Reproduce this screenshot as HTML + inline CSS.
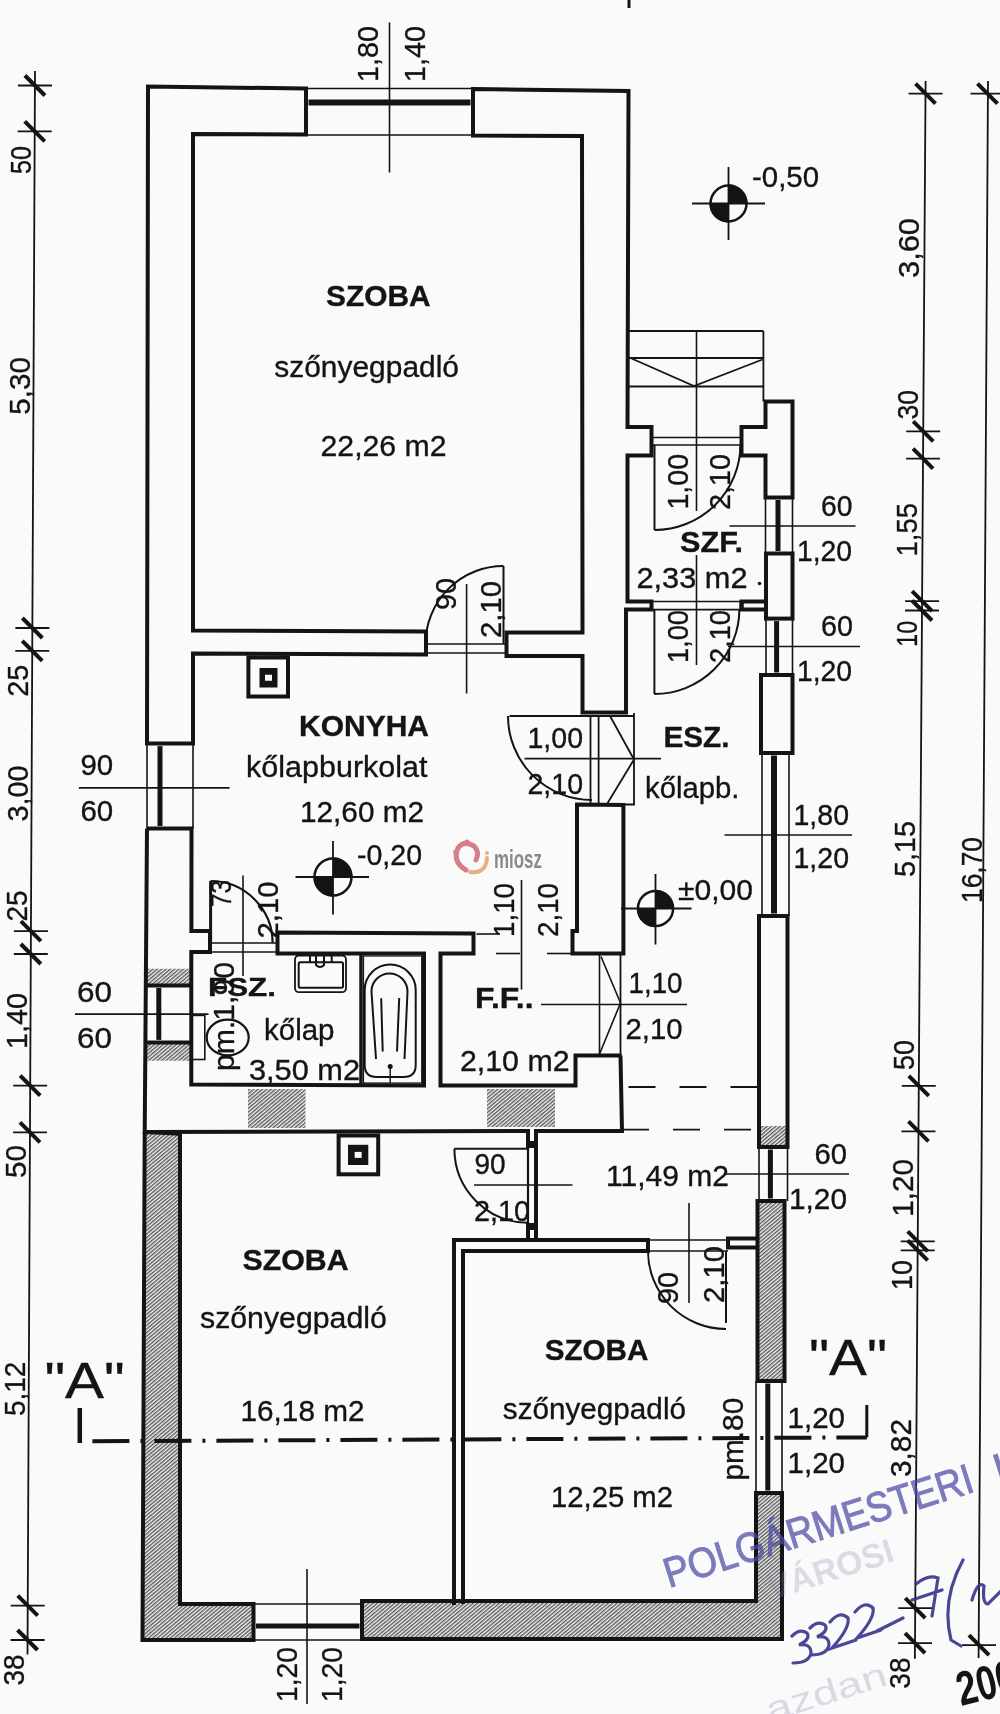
<!DOCTYPE html><html><head><meta charset="utf-8"><style>html,body{margin:0;padding:0;background:#fafafa;width:1000px;height:1714px;overflow:hidden}</style></head><body><svg width="1000" height="1714" viewBox="0 0 1000 1714" style="display:block;filter:blur(0.45px)">
<defs><pattern id="hat" patternUnits="userSpaceOnUse" width="2.8" height="10" patternTransform="rotate(50)"><rect width="2.8" height="10" fill="#f2f2f2"/><line x1="0.7" y1="0" x2="0.7" y2="10" stroke="#555" stroke-width="1.35"/></pattern></defs>
<rect width="1000" height="1714" fill="#fafafa"/>
<g font-family="Liberation Sans, sans-serif">
<path d="M146,1132 L180,1132 L180,1604 L253.5,1604 L253.5,1640 L142.5,1640 Z" fill="url(#hat)" stroke="none"/>
<path d="M362,1601 L756,1601 L756,1493 L782,1493 L782,1639 L362,1639 Z" fill="url(#hat)" stroke="none"/>
<path d="M757.5,1201 L784.5,1201 L784.5,1381 L757.5,1381 Z" fill="url(#hat)" stroke="none"/>
<path d="M759,1126 L787.5,1126 L787.5,1147 L759,1147 Z" fill="url(#hat)" stroke="none"/>
<path d="M145,968.8 L191.3,968.8 L191.3,985.4 L145,985.4 Z" fill="url(#hat)" stroke="none"/>
<path d="M145,1042.4 L191.3,1042.4 L191.3,1060.7 L145,1060.7 Z" fill="url(#hat)" stroke="none"/>
<path d="M248,1089 L305.5,1089 L305.5,1128 L248,1128 Z" fill="url(#hat)" stroke="none"/>
<path d="M487,1089 L555,1089 L555,1127 L487,1127 Z" fill="url(#hat)" stroke="none"/>
<path d="M306,88.5 L148,86.5 L147,743.6 L193,743.6 L193,653.5 L426,654.5 L426,631.5 L193,630.5 L193,134 L306,134.5 Z" fill="none" stroke="#141414" stroke-width="4" stroke-linejoin="miter" />
<path d="M473,89 L628.5,91 L627.5,427 L651.5,427 L651.5,455.5 L627.5,455.5 L627.5,601.5 L651.5,601.5 L651.5,609.6 L626,609.6 L626,712.5 L582.5,712.5 L582.5,656 L506.5,656 L506.5,632.5 L582.5,632.5 L582,136 L473,135.5 Z" fill="none" stroke="#141414" stroke-width="4" stroke-linejoin="miter" />
<line x1="306" y1="88.5" x2="473" y2="88.5" stroke="#141414" stroke-width="1.6" />
<line x1="306" y1="135" x2="473" y2="135" stroke="#141414" stroke-width="1.6" />
<line x1="308.5" y1="102.5" x2="470.5" y2="102.5" stroke="#141414" stroke-width="6" />
<path d="M765.5,401.5 L792.5,401.5 L792.5,497.5 L765.5,497.5 L765.5,455.5 L741.5,455.5 L741.5,427 L765.5,427 Z" fill="none" stroke="#141414" stroke-width="4" stroke-linejoin="miter" />
<line x1="765.5" y1="497.5" x2="765.5" y2="553.5" stroke="#141414" stroke-width="1.6" />
<line x1="792.5" y1="497.5" x2="792.5" y2="553.5" stroke="#141414" stroke-width="1.6" />
<line x1="778" y1="500.0" x2="778" y2="551.0" stroke="#141414" stroke-width="5" />
<rect x="766" y="553.5" width="26.5" height="65.10000000000002" fill="none" stroke="#141414" stroke-width="4"/>
<path d="M767,601.5 L741.5,601.5 L741.5,609.6 L767,609.6" fill="none" stroke="#141414" stroke-width="4" stroke-linejoin="miter" />
<line x1="741.5" y1="601.5" x2="741.5" y2="609.6" stroke="#141414" stroke-width="4" />
<line x1="766" y1="618.6" x2="766" y2="675" stroke="#141414" stroke-width="1.6" />
<line x1="792.5" y1="618.6" x2="792.5" y2="675" stroke="#141414" stroke-width="1.6" />
<line x1="776.6" y1="621.1" x2="776.6" y2="672.5" stroke="#141414" stroke-width="5" />
<rect x="761" y="675" width="31.5" height="78" fill="none" stroke="#141414" stroke-width="4"/>
<line x1="762" y1="753" x2="762" y2="916" stroke="#141414" stroke-width="1.6" />
<line x1="789" y1="753" x2="789" y2="916" stroke="#141414" stroke-width="1.6" />
<line x1="774" y1="755.5" x2="774" y2="913.5" stroke="#141414" stroke-width="6" />
<rect x="759" y="916" width="28.5" height="231" fill="none" stroke="#141414" stroke-width="4"/>
<line x1="759" y1="1147" x2="759" y2="1201" stroke="#141414" stroke-width="1.6" />
<line x1="787.5" y1="1147" x2="787.5" y2="1201" stroke="#141414" stroke-width="1.6" />
<line x1="770.4" y1="1149.5" x2="770.4" y2="1198.5" stroke="#141414" stroke-width="5" />
<rect x="757.5" y="1201" width="27.0" height="180" fill="none" stroke="#141414" stroke-width="4"/>
<line x1="756" y1="1381" x2="756" y2="1493" stroke="#141414" stroke-width="1.6" />
<line x1="782" y1="1381" x2="782" y2="1493" stroke="#141414" stroke-width="1.6" />
<line x1="767.8" y1="1383.5" x2="767.8" y2="1490.5" stroke="#141414" stroke-width="5" />
<path d="M756,1493 L782,1493 L782,1639 L362,1639 L362,1601 L756,1601 Z" fill="none" stroke="#141414" stroke-width="4" stroke-linejoin="miter" />
<line x1="253.5" y1="1604" x2="362" y2="1604" stroke="#141414" stroke-width="1.6" />
<line x1="253.5" y1="1640" x2="362" y2="1640" stroke="#141414" stroke-width="1.6" />
<line x1="256.0" y1="1626" x2="359.5" y2="1626" stroke="#141414" stroke-width="5" />
<path d="M146,1132 L180,1133.7 L180,1604 L253.5,1604 L253.5,1640 L142.5,1640 L144.7,1132" fill="none" stroke="#141414" stroke-width="4" stroke-linejoin="miter" />
<line x1="147" y1="743.6" x2="147" y2="828.5" stroke="#141414" stroke-width="1.6" />
<line x1="193" y1="743.6" x2="193" y2="828.5" stroke="#141414" stroke-width="1.6" />
<line x1="160" y1="746.1" x2="160" y2="826.0" stroke="#141414" stroke-width="5" />
<path d="M147,828.5 L144.7,1134" fill="none" stroke="#141414" stroke-width="4" stroke-linejoin="miter" />
<path d="M147,828.5 L191.5,828.5 L191.4,931 L210,931 L210,952 L191.3,952 L191.3,1084.6 L424,1085.5 L424,953.5 L277.5,953.5 L277.5,932.5 L473.5,933.4 L473.5,953.5 L440.5,953.5 L440.5,1085.5 L575.5,1085.5 L575.5,1055.5 L621.6,1055.5" fill="none" stroke="#141414" stroke-width="4" stroke-linejoin="miter" />
<line x1="145" y1="985.4" x2="191.3" y2="985.4" stroke="#141414" stroke-width="4" />
<line x1="145" y1="1042.4" x2="191.3" y2="1042.4" stroke="#141414" stroke-width="4" />
<line x1="145" y1="985.4" x2="145" y2="1042.4" stroke="#141414" stroke-width="1.6" />
<line x1="191.3" y1="985.4" x2="191.3" y2="1042.4" stroke="#141414" stroke-width="1.6" />
<line x1="158.8" y1="987.9" x2="158.8" y2="1039.9" stroke="#141414" stroke-width="5" />
<line x1="210" y1="943" x2="277.5" y2="943" stroke="#141414" stroke-width="1.6" />
<line x1="210" y1="952" x2="277.5" y2="952" stroke="#141414" stroke-width="1.6" />
<path d="M577,804.5 L623.4,805 L623.4,953.5 L572.5,953.5 L572.5,931 L577,931 Z" fill="none" stroke="#141414" stroke-width="4" stroke-linejoin="miter" />
<path d="M620.5,1055.5 L622,1131 L536,1131 L536,1240" fill="none" stroke="#141414" stroke-width="4" stroke-linejoin="miter" />
<path d="M146,1132 L528,1131 L528,1147" fill="none" stroke="#141414" stroke-width="4" stroke-linejoin="miter" />
<line x1="528" y1="1147" x2="528" y2="1224" stroke="#141414" stroke-width="2.2" />
<path d="M528,1224 L528,1240" fill="none" stroke="#141414" stroke-width="4" stroke-linejoin="miter" />
<rect x="526" y="1141" width="12" height="7" fill="#141414"/>
<rect x="526" y="1223" width="12" height="7" fill="#141414"/>
<line x1="620.5" y1="953.5" x2="620.5" y2="1055.5" stroke="#141414" stroke-width="1.8" />
<line x1="599.5" y1="953.5" x2="599.5" y2="1055.5" stroke="#141414" stroke-width="1.6" />
<path d="M601,956.5 L620.5,1003 L599.5,1054" fill="none" stroke="#141414" stroke-width="1.6" stroke-linejoin="miter" />
<line x1="628.5" y1="1087" x2="757" y2="1087" stroke="#141414" stroke-width="1.8" stroke-dasharray="27 24"/>
<line x1="622" y1="1129.6" x2="757" y2="1129.6" stroke="#141414" stroke-width="1.8" stroke-dasharray="27 24"/>
<path d="M454,1605 L454,1240 L648,1240 L648,1251 L463,1251 L463,1604" fill="none" stroke="#141414" stroke-width="4" stroke-linejoin="miter" />
<path d="M757.5,1238.4 L728,1238.4 L728,1247.6 L757.5,1247.6" fill="none" stroke="#141414" stroke-width="4" stroke-linejoin="miter" />
<line x1="648" y1="1240" x2="728" y2="1240" stroke="#141414" stroke-width="1.6" />
<line x1="648" y1="1251" x2="728" y2="1251" stroke="#141414" stroke-width="1.6" />
<line x1="426" y1="644" x2="506.5" y2="644" stroke="#141414" stroke-width="1.6" />
<line x1="426" y1="653" x2="506.5" y2="653" stroke="#141414" stroke-width="1.6" />
<line x1="503.5" y1="644" x2="503.5" y2="566" stroke="#141414" stroke-width="2" />
<path d="M425.5,644 A78,78 0 0 1 503.5,566" fill="none" stroke="#141414" stroke-width="2" stroke-linejoin="miter" />
<line x1="466.6" y1="584" x2="466.6" y2="693.5" stroke="#141414" stroke-width="1.6" />
<text transform="translate(455.7,610) rotate(-90)" x="0" y="0" font-size="30" font-weight="normal" textLength="32" lengthAdjust="spacingAndGlyphs" fill="#141414" stroke="#141414" stroke-width="0.35">90</text>
<text transform="translate(500.7,638) rotate(-90)" x="0" y="0" font-size="30" font-weight="normal" textLength="57" lengthAdjust="spacingAndGlyphs" fill="#141414" stroke="#141414" stroke-width="0.35">2,10</text>
<line x1="651.5" y1="437.5" x2="741.5" y2="437.5" stroke="#141414" stroke-width="1.6" />
<line x1="651.5" y1="445" x2="741.5" y2="445" stroke="#141414" stroke-width="1.6" />
<line x1="654.5" y1="445" x2="654.5" y2="530" stroke="#141414" stroke-width="2" />
<path d="M654.5,530 A86,86 0 0 0 740.5,445" fill="none" stroke="#141414" stroke-width="2" stroke-linejoin="miter" />
<text transform="translate(687.7,509.5) rotate(-90)" x="0" y="0" font-size="30" font-weight="normal" textLength="55.5" lengthAdjust="spacingAndGlyphs" fill="#141414" stroke="#141414" stroke-width="0.35">1,00</text>
<text transform="translate(729.7,510) rotate(-90)" x="0" y="0" font-size="30" font-weight="normal" textLength="56" lengthAdjust="spacingAndGlyphs" fill="#141414" stroke="#141414" stroke-width="0.35">2,10</text>
<line x1="651.5" y1="601.5" x2="741.5" y2="601.5" stroke="#141414" stroke-width="1.6" />
<line x1="651.5" y1="609.6" x2="741.5" y2="609.6" stroke="#141414" stroke-width="1.6" />
<line x1="654.4" y1="609.6" x2="654.4" y2="694" stroke="#141414" stroke-width="2" />
<path d="M654.4,694 A85,85 0 0 0 739.4,609.6" fill="none" stroke="#141414" stroke-width="2" stroke-linejoin="miter" />
<text transform="translate(687.7,663) rotate(-90)" x="0" y="0" font-size="30" font-weight="normal" textLength="53" lengthAdjust="spacingAndGlyphs" fill="#141414" stroke="#141414" stroke-width="0.35">1,00</text>
<text transform="translate(729.7,663) rotate(-90)" x="0" y="0" font-size="30" font-weight="normal" textLength="53" lengthAdjust="spacingAndGlyphs" fill="#141414" stroke="#141414" stroke-width="0.35">2,10</text>
<line x1="696.5" y1="331" x2="696.5" y2="511" stroke="#141414" stroke-width="1.6" />
<line x1="696.5" y1="555" x2="696.5" y2="665" stroke="#141414" stroke-width="1.6" />
<line x1="627.5" y1="331" x2="763.4" y2="331" stroke="#141414" stroke-width="1.8" />
<line x1="627.5" y1="358" x2="763.4" y2="358" stroke="#141414" stroke-width="1.8" />
<line x1="627.5" y1="386.5" x2="763.4" y2="386.5" stroke="#141414" stroke-width="1.8" />
<line x1="763.4" y1="331" x2="763.4" y2="401.5" stroke="#141414" stroke-width="1.8" />
<path d="M630.5,358 L694,386 L762.5,359.5" fill="none" stroke="#141414" stroke-width="1.8" stroke-linejoin="miter" />
<line x1="509.5" y1="716" x2="634" y2="716" stroke="#141414" stroke-width="1.8" />
<path d="M508,716 A84,84 0 0 0 592,800" fill="none" stroke="#141414" stroke-width="2" stroke-linejoin="miter" />
<line x1="590.5" y1="716" x2="590.5" y2="803" stroke="#141414" stroke-width="1.8" />
<line x1="598.6" y1="716" x2="598.6" y2="803" stroke="#141414" stroke-width="1.8" />
<path d="M634,713 L634,804.5 L598,804.5" fill="none" stroke="#141414" stroke-width="1.8" stroke-linejoin="miter" />
<path d="M610,716 L634,759.5 L607,804" fill="none" stroke="#141414" stroke-width="1.8" stroke-linejoin="miter" />
<line x1="524.5" y1="758.6" x2="661" y2="758.6" stroke="#141414" stroke-width="1.6" />
<text x="527.5" y="747.7" font-size="30" font-weight="normal" textLength="55.5" lengthAdjust="spacingAndGlyphs" fill="#141414" stroke="#141414" stroke-width="0.35">1,00</text>
<text x="527.5" y="794.2" font-size="30" font-weight="normal" textLength="55.5" lengthAdjust="spacingAndGlyphs" fill="#141414" stroke="#141414" stroke-width="0.35">2,10</text>
<path d="M210.6,881 A62,62 0 0 1 272.6,943" fill="none" stroke="#141414" stroke-width="2.2" stroke-linejoin="miter" />
<line x1="210.6" y1="881" x2="210.6" y2="943" stroke="#141414" stroke-width="3" />
<line x1="243" y1="875.5" x2="243" y2="976" stroke="#141414" stroke-width="1.6" />
<text transform="translate(230.7,907) rotate(-90)" x="0" y="0" font-size="30" font-weight="normal" textLength="27" lengthAdjust="spacingAndGlyphs" fill="#141414" stroke="#141414" stroke-width="0.35">73</text>
<text transform="translate(277.7,938.5) rotate(-90)" x="0" y="0" font-size="30" font-weight="normal" textLength="57.0" lengthAdjust="spacingAndGlyphs" fill="#141414" stroke="#141414" stroke-width="0.35">2,10</text>
<line x1="521.5" y1="880" x2="521.5" y2="989.5" stroke="#141414" stroke-width="1.6" />
<line x1="476.5" y1="934" x2="500" y2="934" stroke="#141414" stroke-width="1.6" />
<line x1="496" y1="953.5" x2="520" y2="953.5" stroke="#141414" stroke-width="1.6" />
<line x1="547" y1="953.5" x2="572" y2="953.5" stroke="#141414" stroke-width="1.6" />
<text transform="translate(514.2,937) rotate(-90)" x="0" y="0" font-size="30" font-weight="normal" textLength="54" lengthAdjust="spacingAndGlyphs" fill="#141414" stroke="#141414" stroke-width="0.35">1,10</text>
<text transform="translate(557.7,937) rotate(-90)" x="0" y="0" font-size="30" font-weight="normal" textLength="54" lengthAdjust="spacingAndGlyphs" fill="#141414" stroke="#141414" stroke-width="0.35">2,10</text>
<text x="628.5" y="992.7" font-size="30" font-weight="normal" textLength="54.0" lengthAdjust="spacingAndGlyphs" fill="#141414" stroke="#141414" stroke-width="0.35">1,10</text>
<text x="625.5" y="1039.2" font-size="30" font-weight="normal" textLength="57.0" lengthAdjust="spacingAndGlyphs" fill="#141414" stroke="#141414" stroke-width="0.35">2,10</text>
<line x1="541" y1="1004.5" x2="687" y2="1004.5" stroke="#141414" stroke-width="1.6" />
<line x1="454.4" y1="1148.8" x2="528" y2="1148.8" stroke="#141414" stroke-width="2" />
<path d="M454.4,1148.8 A74,74 0 0 0 528,1222.8" fill="none" stroke="#141414" stroke-width="2" stroke-linejoin="miter" />
<text x="474.4" y="1174.3" font-size="30" font-weight="normal" textLength="31.200000000000045" lengthAdjust="spacingAndGlyphs" fill="#141414" stroke="#141414" stroke-width="0.35">90</text>
<line x1="474" y1="1185" x2="572.5" y2="1185" stroke="#141414" stroke-width="1.6" />
<text x="474" y="1221.3" font-size="30" font-weight="normal" textLength="56" lengthAdjust="spacingAndGlyphs" fill="#141414" stroke="#141414" stroke-width="0.35">2,10</text>
<line x1="726" y1="1251" x2="726" y2="1323" stroke="#141414" stroke-width="2" />
<path d="M648,1251 A78,78 0 0 0 726,1329" fill="none" stroke="#141414" stroke-width="2" stroke-linejoin="miter" />
<line x1="689" y1="1203" x2="689" y2="1303" stroke="#141414" stroke-width="1.6" />
<text transform="translate(677.7,1304) rotate(-90)" x="0" y="0" font-size="30" font-weight="normal" textLength="32" lengthAdjust="spacingAndGlyphs" fill="#141414" stroke="#141414" stroke-width="0.35">90</text>
<text transform="translate(723.7,1303) rotate(-90)" x="0" y="0" font-size="30" font-weight="normal" textLength="57" lengthAdjust="spacingAndGlyphs" fill="#141414" stroke="#141414" stroke-width="0.35">2,10</text>
<rect x="248.4" y="657.5" width="39.599999999999994" height="39.0" fill="none" stroke="#141414" stroke-width="4"/>
<rect x="259.5" y="668" width="18.0" height="19.5" fill="#141414"/>
<rect x="265.0" y="674.75" width="7" height="6" fill="#fafafa"/>
<rect x="338.6" y="1135.5" width="39.599999999999966" height="38.799999999999955" fill="none" stroke="#141414" stroke-width="4"/>
<rect x="348" y="1144.8" width="20.30000000000001" height="20.200000000000045" fill="#141414"/>
<rect x="354.65" y="1151.9" width="7" height="6" fill="#fafafa"/>
<rect x="295" y="955.5" width="51" height="36.7" rx="4" fill="none" stroke="#141414" stroke-width="1.8"/>
<rect x="298.7" y="962.2" width="44.3" height="25.5" rx="1.5" fill="none" stroke="#141414" stroke-width="2"/>
<path d="M316,956 L316,965 Q320,969 324,965 L324,956" fill="none" stroke="#141414" stroke-width="2"/>
<line x1="310" y1="955" x2="310" y2="962" stroke="#141414" stroke-width="2" />
<line x1="331.7" y1="955" x2="331.7" y2="962" stroke="#141414" stroke-width="2" />
<line x1="361" y1="953.5" x2="361" y2="1085" stroke="#141414" stroke-width="3.5" />
<rect x="363.5" y="956" width="58.2" height="127" fill="none" stroke="#141414" stroke-width="1.2"/>
<path d="M364.7,990 A25.5,25.5 0 0 1 415.7,990 L415.7,1065 Q415.7,1077 403.7,1077 L376.7,1077 Q364.7,1077 364.7,1065 Z" fill="none" stroke="#141414" stroke-width="2"/>
<path d="M376,1059 L371.5,991.5 A18,18 0 0 1 407.5,991.5 L404.5,1059" fill="none" stroke="#141414" stroke-width="2"/>
<line x1="381.2" y1="998.2" x2="382.7" y2="1051.5" stroke="#141414" stroke-width="2" />
<line x1="399.2" y1="998" x2="397" y2="1051.5" stroke="#141414" stroke-width="2" />
<circle cx="390.2" cy="1066.5" r="2.5" fill="#141414"/>
<line x1="390.2" y1="1066" x2="390.2" y2="1083" stroke="#141414" stroke-width="1.4" />
<rect x="191.9" y="1015.4" width="12.9" height="44.1" fill="none" stroke="#141414" stroke-width="1.6"/>
<ellipse cx="227.7" cy="1037.5" rx="21" ry="17.8" fill="none" stroke="#141414" stroke-width="2.2"/>
<line x1="692" y1="203.5" x2="765" y2="203.5" stroke="#141414" stroke-width="1.8" />
<line x1="728.5" y1="167" x2="728.5" y2="240" stroke="#141414" stroke-width="1.8" />
<path d="M728.5,203.5 L728.5,184.5 A19,19 0 0 1 747.5,203.5 Z" fill="#141414"/>
<path d="M728.5,203.5 L728.5,222.5 A19,19 0 0 1 709.5,203.5 Z" fill="#141414"/>
<circle cx="728.5" cy="203.5" r="18" fill="none" stroke="#141414" stroke-width="2.5"/>
<text x="752" y="186.7" font-size="30" font-weight="normal" textLength="67" lengthAdjust="spacingAndGlyphs" fill="#141414" stroke="#141414" stroke-width="0.35">-0,50</text>
<line x1="295.5" y1="877" x2="369" y2="877" stroke="#141414" stroke-width="1.8" />
<line x1="333" y1="841" x2="333" y2="914.5" stroke="#141414" stroke-width="1.8" />
<path d="M333,877 L333,857.5 A19.5,19.5 0 0 1 352.5,877 Z" fill="#141414"/>
<path d="M333,877 L333,896.5 A19.5,19.5 0 0 1 313.5,877 Z" fill="#141414"/>
<circle cx="333" cy="877" r="18.5" fill="none" stroke="#141414" stroke-width="2.5"/>
<text x="357" y="865.2" font-size="30" font-weight="normal" textLength="65" lengthAdjust="spacingAndGlyphs" fill="#141414" stroke="#141414" stroke-width="0.35">-0,20</text>
<line x1="621" y1="908.5" x2="691.5" y2="908.5" stroke="#141414" stroke-width="1.8" />
<line x1="655.5" y1="874" x2="655.5" y2="944.5" stroke="#141414" stroke-width="1.8" />
<path d="M655.5,908.5 L655.5,889.9 A18.6,18.6 0 0 1 674.1,908.5 Z" fill="#141414"/>
<path d="M655.5,908.5 L655.5,927.1 A18.6,18.6 0 0 1 636.9,908.5 Z" fill="#141414"/>
<circle cx="655.5" cy="908.5" r="17.6" fill="none" stroke="#141414" stroke-width="2.5"/>
<text x="678" y="899.7" font-size="30" font-weight="normal" textLength="75" lengthAdjust="spacingAndGlyphs" fill="#141414" stroke="#141414" stroke-width="0.35">±0,00</text>
<text x="326" y="305.7" font-size="30" font-weight="bold" textLength="104.5" lengthAdjust="spacingAndGlyphs" fill="#141414" stroke="#141414" stroke-width="0.35">SZOBA</text>
<text x="274.3" y="376.7" font-size="30" font-weight="normal" textLength="184.7" lengthAdjust="spacingAndGlyphs" fill="#141414" stroke="#141414" stroke-width="0.35">szőnyegpadló</text>
<text x="320.5" y="456.2" font-size="30" font-weight="normal" textLength="126.10000000000002" lengthAdjust="spacingAndGlyphs" fill="#141414" stroke="#141414" stroke-width="0.35">22,26 m2</text>
<text x="299" y="735.7" font-size="30" font-weight="bold" textLength="130" lengthAdjust="spacingAndGlyphs" fill="#141414" stroke="#141414" stroke-width="0.35">KONYHA</text>
<text x="246" y="777.0" font-size="30" font-weight="normal" textLength="181.5" lengthAdjust="spacingAndGlyphs" fill="#141414" stroke="#141414" stroke-width="0.35">kőlapburkolat</text>
<text x="300" y="821.7" font-size="30" font-weight="normal" textLength="124" lengthAdjust="spacingAndGlyphs" fill="#141414" stroke="#141414" stroke-width="0.35">12,60 m2</text>
<text x="680" y="551.7" font-size="30" font-weight="bold" textLength="63" lengthAdjust="spacingAndGlyphs" fill="#141414" stroke="#141414" stroke-width="0.35">SZF.</text>
<text x="636.5" y="588.2" font-size="30" font-weight="normal" textLength="111.0" lengthAdjust="spacingAndGlyphs" fill="#141414" stroke="#141414" stroke-width="0.35">2,33 m2</text>
<circle cx="759.5" cy="583.5" r="1.8" fill="#141414"/>
<text x="663.5" y="747.2" font-size="30" font-weight="bold" textLength="66.0" lengthAdjust="spacingAndGlyphs" fill="#141414" stroke="#141414" stroke-width="0.35">ESZ.</text>
<text x="645" y="798.0" font-size="30" font-weight="normal" textLength="94.5" lengthAdjust="spacingAndGlyphs" fill="#141414" stroke="#141414" stroke-width="0.35">kőlapb.</text>
<text x="208" y="995.6" font-size="26" font-weight="bold" textLength="68" lengthAdjust="spacingAndGlyphs" fill="#141414" stroke="#141414" stroke-width="0.35">FSZ.</text>
<text x="264" y="1040.0" font-size="30" font-weight="normal" textLength="70.5" lengthAdjust="spacingAndGlyphs" fill="#141414" stroke="#141414" stroke-width="0.35">kőlap</text>
<text x="249" y="1079.7" font-size="30" font-weight="normal" textLength="111" lengthAdjust="spacingAndGlyphs" fill="#141414" stroke="#141414" stroke-width="0.35">3,50 m2</text>
<text x="475" y="1007.7" font-size="30" font-weight="bold" textLength="58.5" lengthAdjust="spacingAndGlyphs" fill="#141414" stroke="#141414" stroke-width="0.35">F.F..</text>
<text x="460" y="1070.7" font-size="30" font-weight="normal" textLength="109.5" lengthAdjust="spacingAndGlyphs" fill="#141414" stroke="#141414" stroke-width="0.35">2,10 m2</text>
<text x="606" y="1186.2" font-size="30" font-weight="normal" textLength="123" lengthAdjust="spacingAndGlyphs" fill="#141414" stroke="#141414" stroke-width="0.35">11,49 m2</text>
<text x="242.5" y="1270.2" font-size="30" font-weight="bold" textLength="106.10000000000002" lengthAdjust="spacingAndGlyphs" fill="#141414" stroke="#141414" stroke-width="0.35">SZOBA</text>
<text x="200" y="1328.0" font-size="30" font-weight="normal" textLength="186.8" lengthAdjust="spacingAndGlyphs" fill="#141414" stroke="#141414" stroke-width="0.35">szőnyegpadló</text>
<text x="240.5" y="1420.7" font-size="30" font-weight="normal" textLength="124.0" lengthAdjust="spacingAndGlyphs" fill="#141414" stroke="#141414" stroke-width="0.35">16,18 m2</text>
<text x="544.7" y="1360.2" font-size="30" font-weight="bold" textLength="103.69999999999993" lengthAdjust="spacingAndGlyphs" fill="#141414" stroke="#141414" stroke-width="0.35">SZOBA</text>
<text x="502.8" y="1419.0" font-size="30" font-weight="normal" textLength="183.2" lengthAdjust="spacingAndGlyphs" fill="#141414" stroke="#141414" stroke-width="0.35">szőnyegpadló</text>
<text x="551" y="1507.3" font-size="30" font-weight="normal" textLength="122" lengthAdjust="spacingAndGlyphs" fill="#141414" stroke="#141414" stroke-width="0.35">12,25 m2</text>
<text transform="translate(233.7,1071) rotate(-90)" x="0" y="0" font-size="30" font-weight="normal" textLength="109" lengthAdjust="spacingAndGlyphs" fill="#141414" stroke="#141414" stroke-width="0.35">pm.1,90</text>
<text transform="translate(742.5,1480.5) rotate(-90)" x="0" y="0" font-size="30" font-weight="normal" textLength="82.70000000000005" lengthAdjust="spacingAndGlyphs" fill="#141414" stroke="#141414" stroke-width="0.35">pm.80</text>
<text x="821" y="515.7" font-size="30" font-weight="normal" textLength="31.5" lengthAdjust="spacingAndGlyphs" fill="#141414" stroke="#141414" stroke-width="0.35">60</text>
<text x="797" y="560.7" font-size="30" font-weight="normal" textLength="55" lengthAdjust="spacingAndGlyphs" fill="#141414" stroke="#141414" stroke-width="0.35">1,20</text>
<line x1="729.5" y1="526" x2="855.5" y2="526" stroke="#141414" stroke-width="1.6" />
<text x="821" y="636.2" font-size="30" font-weight="normal" textLength="32" lengthAdjust="spacingAndGlyphs" fill="#141414" stroke="#141414" stroke-width="0.35">60</text>
<text x="797" y="681.2" font-size="30" font-weight="normal" textLength="55" lengthAdjust="spacingAndGlyphs" fill="#141414" stroke="#141414" stroke-width="0.35">1,20</text>
<line x1="728" y1="646.5" x2="860" y2="646.5" stroke="#141414" stroke-width="1.6" />
<text x="793.5" y="824.7" font-size="30" font-weight="normal" textLength="55.5" lengthAdjust="spacingAndGlyphs" fill="#141414" stroke="#141414" stroke-width="0.35">1,80</text>
<text x="793.5" y="868.2" font-size="30" font-weight="normal" textLength="55.5" lengthAdjust="spacingAndGlyphs" fill="#141414" stroke="#141414" stroke-width="0.35">1,20</text>
<line x1="724.5" y1="835" x2="852" y2="835" stroke="#141414" stroke-width="1.6" />
<text x="814.5" y="1163.7" font-size="30" font-weight="normal" textLength="32.5" lengthAdjust="spacingAndGlyphs" fill="#141414" stroke="#141414" stroke-width="0.35">60</text>
<text x="789" y="1208.7" font-size="30" font-weight="normal" textLength="58" lengthAdjust="spacingAndGlyphs" fill="#141414" stroke="#141414" stroke-width="0.35">1,20</text>
<line x1="726" y1="1174" x2="849" y2="1174" stroke="#141414" stroke-width="1.6" />
<text x="787.6" y="1428.3" font-size="30" font-weight="normal" textLength="57.39999999999998" lengthAdjust="spacingAndGlyphs" fill="#141414" stroke="#141414" stroke-width="0.35">1,20</text>
<text x="787.6" y="1473.3" font-size="30" font-weight="normal" textLength="57.39999999999998" lengthAdjust="spacingAndGlyphs" fill="#141414" stroke="#141414" stroke-width="0.35">1,20</text>
<text x="80.4" y="774.9" font-size="30" font-weight="normal" textLength="32.8" lengthAdjust="spacingAndGlyphs" fill="#141414" stroke="#141414" stroke-width="0.35">90</text>
<text x="80.4" y="821.3" font-size="30" font-weight="normal" textLength="32.8" lengthAdjust="spacingAndGlyphs" fill="#141414" stroke="#141414" stroke-width="0.35">60</text>
<line x1="78.8" y1="787.8" x2="229.5" y2="787.8" stroke="#141414" stroke-width="1.8" />
<text x="77" y="1001.7" font-size="30" font-weight="normal" textLength="35" lengthAdjust="spacingAndGlyphs" fill="#141414" stroke="#141414" stroke-width="0.35">60</text>
<text x="77" y="1047.5" font-size="30" font-weight="normal" textLength="35" lengthAdjust="spacingAndGlyphs" fill="#141414" stroke="#141414" stroke-width="0.35">60</text>
<line x1="75" y1="1014.2" x2="208.5" y2="1014.2" stroke="#141414" stroke-width="1.8" />
<line x1="389.5" y1="22.5" x2="389.5" y2="172.5" stroke="#141414" stroke-width="1.6" />
<text transform="translate(377.7,82) rotate(-90)" x="0" y="0" font-size="30" font-weight="normal" textLength="56" lengthAdjust="spacingAndGlyphs" fill="#141414" stroke="#141414" stroke-width="0.35">1,80</text>
<text transform="translate(424.7,82) rotate(-90)" x="0" y="0" font-size="30" font-weight="normal" textLength="56" lengthAdjust="spacingAndGlyphs" fill="#141414" stroke="#141414" stroke-width="0.35">1,40</text>
<line x1="307" y1="1569" x2="307" y2="1704" stroke="#141414" stroke-width="1.6" />
<text transform="translate(296.7,1702) rotate(-90)" x="0" y="0" font-size="30" font-weight="normal" textLength="55" lengthAdjust="spacingAndGlyphs" fill="#141414" stroke="#141414" stroke-width="0.35">1,20</text>
<text transform="translate(341.7,1702) rotate(-90)" x="0" y="0" font-size="30" font-weight="normal" textLength="55" lengthAdjust="spacingAndGlyphs" fill="#141414" stroke="#141414" stroke-width="0.35">1,20</text>
<line x1="35" y1="71" x2="27.5" y2="1654.4" stroke="#141414" stroke-width="1.8" />
<line x1="17.93131868131868" y1="85.5" x2="51.93131868131868" y2="85.5" stroke="#141414" stroke-width="1.8" />
<line x1="24.93131868131868" y1="75.5" x2="44.93131868131868" y2="95.5" stroke="#141414" stroke-width="4" />
<line x1="17.7139067828723" y1="131.4" x2="51.7139067828723" y2="131.4" stroke="#141414" stroke-width="1.8" />
<line x1="24.7139067828723" y1="121.4" x2="44.7139067828723" y2="141.4" stroke="#141414" stroke-width="4" />
<line x1="15.36169003410383" y1="628" x2="49.36169003410383" y2="628" stroke="#141414" stroke-width="1.8" />
<line x1="22.36169003410383" y1="618" x2="42.36169003410383" y2="638" stroke="#141414" stroke-width="4" />
<line x1="15.25369458128079" y1="650.8" x2="49.25369458128079" y2="650.8" stroke="#141414" stroke-width="1.8" />
<line x1="22.25369458128079" y1="640.8" x2="42.25369458128079" y2="660.8" stroke="#141414" stroke-width="4" />
<line x1="13.925539977264116" y1="931.2" x2="47.925539977264116" y2="931.2" stroke="#141414" stroke-width="1.8" />
<line x1="20.925539977264116" y1="921.2" x2="40.925539977264116" y2="941.2" stroke="#141414" stroke-width="4" />
<line x1="13.817544524441075" y1="954" x2="47.817544524441075" y2="954" stroke="#141414" stroke-width="1.8" />
<line x1="20.817544524441075" y1="944" x2="40.817544524441075" y2="964" stroke="#141414" stroke-width="4" />
<line x1="13.194202349374763" y1="1085.6" x2="47.19420234937476" y2="1085.6" stroke="#141414" stroke-width="1.8" />
<line x1="20.194202349374763" y1="1075.6" x2="40.19420234937476" y2="1095.6" stroke="#141414" stroke-width="4" />
<line x1="12.972527472527474" y1="1132.4" x2="46.972527472527474" y2="1132.4" stroke="#141414" stroke-width="1.8" />
<line x1="19.972527472527474" y1="1122.4" x2="39.972527472527474" y2="1142.4" stroke="#141414" stroke-width="4" />
<line x1="10.731148162182645" y1="1605.6" x2="44.73114816218265" y2="1605.6" stroke="#141414" stroke-width="1.8" />
<line x1="17.731148162182645" y1="1595.6" x2="37.73114816218265" y2="1615.6" stroke="#141414" stroke-width="4" />
<line x1="10.56820765441455" y1="1640" x2="44.56820765441455" y2="1640" stroke="#141414" stroke-width="1.8" />
<line x1="17.56820765441455" y1="1630" x2="37.56820765441455" y2="1650" stroke="#141414" stroke-width="4" />
<text transform="translate(30.8,174) rotate(-90)" x="0" y="0" font-size="30" font-weight="normal" textLength="28" lengthAdjust="spacingAndGlyphs" fill="#141414" stroke="#141414" stroke-width="0.35">50</text>
<text transform="translate(29.7,414.7) rotate(-90)" x="0" y="0" font-size="30" font-weight="normal" textLength="57.69999999999999" lengthAdjust="spacingAndGlyphs" fill="#141414" stroke="#141414" stroke-width="0.35">5,30</text>
<text transform="translate(28.4,696.8) rotate(-90)" x="0" y="0" font-size="30" font-weight="normal" textLength="32.0" lengthAdjust="spacingAndGlyphs" fill="#141414" stroke="#141414" stroke-width="0.35">25</text>
<text transform="translate(27.8,821.5) rotate(-90)" x="0" y="0" font-size="30" font-weight="normal" textLength="56.0" lengthAdjust="spacingAndGlyphs" fill="#141414" stroke="#141414" stroke-width="0.35">3,00</text>
<text transform="translate(27.3,921.6) rotate(-90)" x="0" y="0" font-size="30" font-weight="normal" textLength="31.200000000000045" lengthAdjust="spacingAndGlyphs" fill="#141414" stroke="#141414" stroke-width="0.35">25</text>
<text transform="translate(26.7,1049) rotate(-90)" x="0" y="0" font-size="30" font-weight="normal" textLength="56" lengthAdjust="spacingAndGlyphs" fill="#141414" stroke="#141414" stroke-width="0.35">1,40</text>
<text transform="translate(26.1,1178) rotate(-90)" x="0" y="0" font-size="30" font-weight="normal" textLength="33" lengthAdjust="spacingAndGlyphs" fill="#141414" stroke="#141414" stroke-width="0.35">50</text>
<text transform="translate(25.0,1416) rotate(-90)" x="0" y="0" font-size="30" font-weight="normal" textLength="54.40000000000009" lengthAdjust="spacingAndGlyphs" fill="#141414" stroke="#141414" stroke-width="0.35">5,12</text>
<text transform="translate(23.7,1685.6) rotate(-90)" x="0" y="0" font-size="30" font-weight="normal" textLength="31.199999999999818" lengthAdjust="spacingAndGlyphs" fill="#141414" stroke="#141414" stroke-width="0.35">38</text>
<line x1="925.6" y1="81" x2="914.9" y2="1658.8" stroke="#141414" stroke-width="1.8" />
<line x1="908.5138737482571" y1="93.7" x2="942.5138737482571" y2="93.7" stroke="#141414" stroke-width="1.8" />
<line x1="915.5138737482571" y1="83.7" x2="935.5138737482571" y2="103.7" stroke="#141414" stroke-width="4" />
<line x1="906.2237292432501" y1="431.4" x2="940.2237292432501" y2="431.4" stroke="#141414" stroke-width="1.8" />
<line x1="913.2237292432501" y1="421.4" x2="933.2237292432501" y2="441.4" stroke="#141414" stroke-width="4" />
<line x1="906.0385917099759" y1="458.7" x2="940.0385917099759" y2="458.7" stroke="#141414" stroke-width="1.8" />
<line x1="913.0385917099759" y1="448.7" x2="933.0385917099759" y2="468.7" stroke="#141414" stroke-width="4" />
<line x1="905.0722144758524" y1="601.2" x2="939.0722144758524" y2="601.2" stroke="#141414" stroke-width="1.8" />
<line x1="912.0722144758524" y1="591.2" x2="932.0722144758524" y2="611.2" stroke="#141414" stroke-width="4" />
<line x1="905.0091456458359" y1="610.5" x2="939.0091456458359" y2="610.5" stroke="#141414" stroke-width="1.8" />
<line x1="912.0091456458359" y1="600.5" x2="932.0091456458359" y2="620.5" stroke="#141414" stroke-width="4" />
<line x1="901.7858537203701" y1="1085.8" x2="935.7858537203701" y2="1085.8" stroke="#141414" stroke-width="1.8" />
<line x1="908.7858537203701" y1="1075.8" x2="928.7858537203701" y2="1095.8" stroke="#141414" stroke-width="4" />
<line x1="901.4766130054506" y1="1131.4" x2="935.4766130054506" y2="1131.4" stroke="#141414" stroke-width="1.8" />
<line x1="908.4766130054506" y1="1121.4" x2="928.4766130054506" y2="1141.4" stroke="#141414" stroke-width="4" />
<line x1="900.7306375966535" y1="1241.4" x2="934.7306375966535" y2="1241.4" stroke="#141414" stroke-width="1.8" />
<line x1="907.7306375966535" y1="1231.4" x2="927.7306375966535" y2="1251.4" stroke="#141414" stroke-width="4" />
<line x1="900.6696032450247" y1="1250.4" x2="934.6696032450247" y2="1250.4" stroke="#141414" stroke-width="1.8" />
<line x1="907.6696032450247" y1="1240.4" x2="927.6696032450247" y2="1260.4" stroke="#141414" stroke-width="4" />
<line x1="898.2438268475091" y1="1608.1" x2="932.2438268475091" y2="1608.1" stroke="#141414" stroke-width="1.8" />
<line x1="905.2438268475091" y1="1598.1" x2="925.2438268475091" y2="1618.1" stroke="#141414" stroke-width="4" />
<line x1="898.0057928761566" y1="1643.2" x2="932.0057928761566" y2="1643.2" stroke="#141414" stroke-width="1.8" />
<line x1="905.0057928761566" y1="1633.2" x2="925.0057928761566" y2="1653.2" stroke="#141414" stroke-width="4" />
<text transform="translate(919.2,278) rotate(-90)" x="0" y="0" font-size="30" font-weight="normal" textLength="60" lengthAdjust="spacingAndGlyphs" fill="#141414" stroke="#141414" stroke-width="0.35">3,60</text>
<text transform="translate(918.1,419.5) rotate(-90)" x="0" y="0" font-size="30" font-weight="normal" textLength="29.5" lengthAdjust="spacingAndGlyphs" fill="#141414" stroke="#141414" stroke-width="0.35">30</text>
<text transform="translate(917.3,556.4) rotate(-90)" x="0" y="0" font-size="30" font-weight="normal" textLength="53.39999999999998" lengthAdjust="spacingAndGlyphs" fill="#141414" stroke="#141414" stroke-width="0.35">1,55</text>
<text transform="translate(916.6,646.7) rotate(-90)" x="0" y="0" font-size="30" font-weight="normal" textLength="25.700000000000045" lengthAdjust="spacingAndGlyphs" fill="#141414" stroke="#141414" stroke-width="0.35">10</text>
<text transform="translate(915.1,877) rotate(-90)" x="0" y="0" font-size="30" font-weight="normal" textLength="56" lengthAdjust="spacingAndGlyphs" fill="#141414" stroke="#141414" stroke-width="0.35">5,15</text>
<text transform="translate(913.7,1070) rotate(-90)" x="0" y="0" font-size="30" font-weight="normal" textLength="30" lengthAdjust="spacingAndGlyphs" fill="#141414" stroke="#141414" stroke-width="0.35">50</text>
<text transform="translate(912.8,1216.7) rotate(-90)" x="0" y="0" font-size="30" font-weight="normal" textLength="57.700000000000045" lengthAdjust="spacingAndGlyphs" fill="#141414" stroke="#141414" stroke-width="0.35">1,20</text>
<text transform="translate(912.2,1290) rotate(-90)" x="0" y="0" font-size="30" font-weight="normal" textLength="30" lengthAdjust="spacingAndGlyphs" fill="#141414" stroke="#141414" stroke-width="0.35">10</text>
<text transform="translate(911.1,1477) rotate(-90)" x="0" y="0" font-size="30" font-weight="normal" textLength="58" lengthAdjust="spacingAndGlyphs" fill="#141414" stroke="#141414" stroke-width="0.35">3,82</text>
<text transform="translate(909.5,1688.7) rotate(-90)" x="0" y="0" font-size="30" font-weight="normal" textLength="31.200000000000045" lengthAdjust="spacingAndGlyphs" fill="#141414" stroke="#141414" stroke-width="0.35">38</text>
<line x1="988" y1="81" x2="978.6" y2="1658" stroke="#141414" stroke-width="1.8" />
<line x1="970.5" y1="93.7" x2="1004.5" y2="93.7" stroke="#141414" stroke-width="1.8" />
<line x1="977.5" y1="83.7" x2="997.5" y2="103.7" stroke="#141414" stroke-width="4" />
<line x1="962" y1="1645.2" x2="996" y2="1645.2" stroke="#141414" stroke-width="1.8" />
<line x1="969" y1="1635.2" x2="989" y2="1655.2" stroke="#141414" stroke-width="4" />
<text transform="translate(982.2,903) rotate(-90)" x="0" y="0" font-size="30" font-weight="normal" textLength="66" lengthAdjust="spacingAndGlyphs" fill="#141414" stroke="#141414" stroke-width="0.35">16,70</text>
<text x="44.4" y="1397.5" font-size="50" font-weight="normal" textLength="80.4" lengthAdjust="spacingAndGlyphs" fill="#141414" stroke="#141414" stroke-width="0.35">"A"</text>
<line x1="79.8" y1="1408" x2="79.8" y2="1443" stroke="#141414" stroke-width="4.5" />
<line x1="92.4" y1="1441.3" x2="866.8" y2="1437.4" stroke="#141414" stroke-width="4" stroke-dasharray="37 11 3 11"/>
<line x1="866.8" y1="1437.4" x2="866.8" y2="1405" stroke="#141414" stroke-width="3" />
<text x="809" y="1374.9" font-size="50" font-weight="normal" textLength="78" lengthAdjust="spacingAndGlyphs" fill="#141414" stroke="#141414" stroke-width="0.35">"A"</text>
<g transform="translate(669,1588) rotate(-17.5)" fill="#4a4aa6" stroke="#4a4aa6" stroke-width="1" opacity="0.72"><text x="0" y="0" font-size="42" textLength="322" lengthAdjust="spacingAndGlyphs">POLGÁRMESTERI</text><text x="346" y="0" font-size="42" textLength="30" lengthAdjust="spacingAndGlyphs">H</text></g>
<g transform="translate(772,1600) rotate(-17.6)" fill="#8080b0" opacity="0.25"><text x="0" y="0" font-size="34" font-weight="bold" textLength="130" lengthAdjust="spacingAndGlyphs">VÁROSI</text></g>
<g transform="translate(770,1722) rotate(-17.5)" fill="#9090b8" opacity="0.3"><text x="0" y="0" font-size="34" textLength="125" lengthAdjust="spacingAndGlyphs">azdan</text></g>
<path d="M792,1636 q8,-8 15,-3 q4,6 -8,12 q12,-2 12,8 q-2,10 -18,10 M810,1628 q8,-8 15,-3 q4,6 -8,12 q12,-2 12,8 q-2,10 -18,10 M830,1622 q10,-12 18,-4 q2,10 -16,30 l24,-8 M855,1612 q10,-12 18,-4 q2,10 -16,30 l24,-8 M877,1631 l26,-13 M916,1584 q12,-10 22,-6 l-6,38 M912,1600 l30,-10 M963,1560 q-22,40 -12,80 l10,6 M972,1600 q6,-20 12,-14 q-2,18 4,18 q6,-6 14,-14" fill="none" stroke="#34348c" stroke-width="3.2" stroke-linecap="round" opacity="0.9"/>
<text transform="translate(961,1706) rotate(-14)" font-size="48" font-weight="bold" fill="#141414" textLength="60" lengthAdjust="spacingAndGlyphs">200</text>
<line x1="629" y1="0" x2="629" y2="8" stroke="#141414" stroke-width="3" />
<g opacity="0.85"><path d="M466,870 Q452,862 458,848 Q464,840 474,846 Q480,852 476,860" fill="none" stroke="#d06a78" stroke-width="5" stroke-linecap="round"/><path d="M470,872 Q486,874 487,858" fill="none" stroke="#e6a070" stroke-width="4" stroke-linecap="round"/><circle cx="467" cy="842" r="2.6" fill="#d06a78"/><circle cx="455" cy="852" r="2" fill="#d06a78"/><circle cx="487" cy="853" r="2" fill="#e6a070"/></g>
<text x="494" y="868" font-size="25" font-weight="bold" fill="#8a8a8a" textLength="48" lengthAdjust="spacingAndGlyphs">miosz</text>
</g></svg></body></html>
